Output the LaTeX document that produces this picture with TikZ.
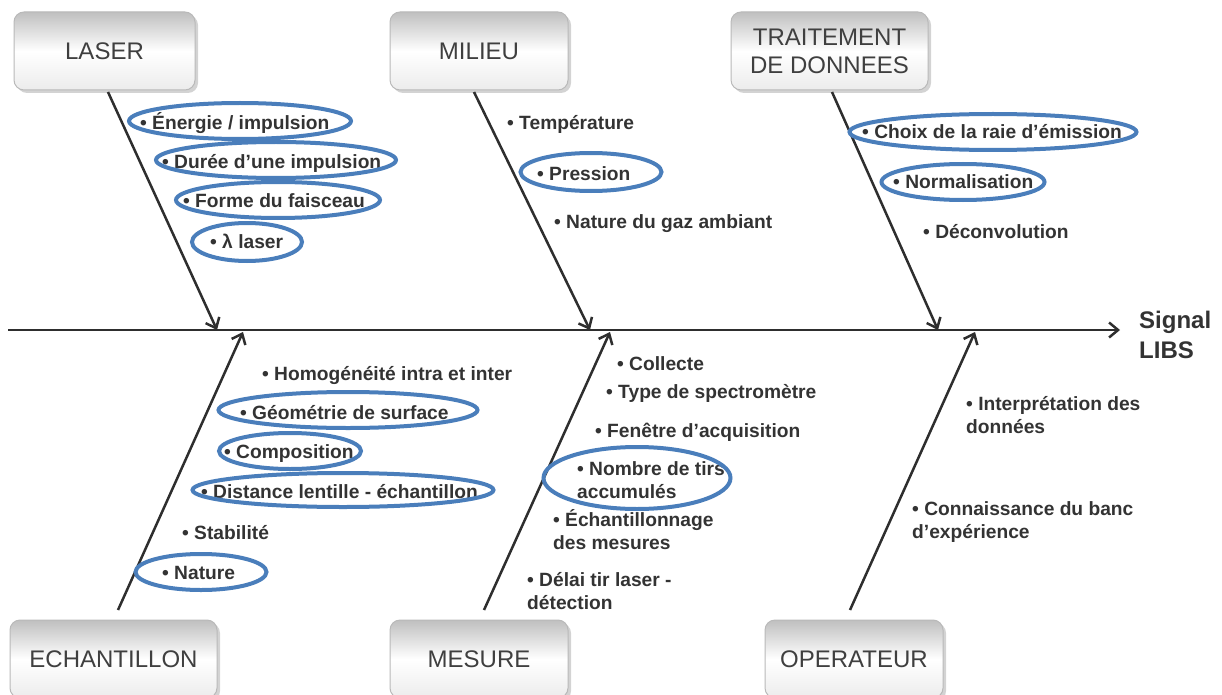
\documentclass[tikz,border=0pt]{standalone}
\usepackage{fontspec}
\setmainfont{Liberation Sans}
\usetikzlibrary{arrows.meta,shapes.geometric,shadows}
\definecolor{txt}{HTML}{333333}
\definecolor{boxtxt}{HTML}{3F3F3F}
\definecolor{ell}{HTML}{4A7EBB}
\definecolor{ln}{HTML}{2E2E2E}
\begin{document}
\begin{tikzpicture}[x=1pt,y=-1pt,
 cat/.style={draw=gray!55, line width=1pt, rounded corners=10pt, top color=gray!50, bottom color=gray!15, middle color=white,
   drop shadow={shadow xshift=3pt, shadow yshift=-3pt, opacity=0.35}, text=boxtxt,
   font=\fontsize{24}{28}\selectfont, align=center, inner sep=0pt, minimum height=78pt},
 item/.style={anchor=base west, inner sep=0pt, text=txt, font=\fontsize{19.2}{22.5}\selectfont\bfseries, align=left},
 hilite/.style={draw=ell, line width=4pt, ellipse, inner sep=0pt},
 bone/.style={draw=ln, line width=2.5pt, -{Straight Barb[length=9pt,width=15pt,line width=2.5pt]}}]
\useasboundingbox (0,0) rectangle (1222,695);
% category boxes
\node[cat, minimum width=181pt] (laser) at (104.5,51) {LASER};
\node[cat, minimum width=178pt] (milieu) at (479,51) {MILIEU};
\node[cat, minimum width=197pt] (trait) at (829.5,51) {TRAITEMENT\\DE DONNEES};
\node[cat, minimum width=207pt] (echant) at (113.5,659) {ECHANTILLON};
\node[cat, minimum width=178pt] (mesure) at (479,659) {MESURE};
\node[cat, minimum width=178pt] (operat) at (854,659) {OPERATEUR};
% spine
\coordinate (tail) at (8,330);
\coordinate (head) at (1120,330);
\draw[bone] (tail) -- (head);
\node[anchor=west, inner sep=0pt, text=txt, font=\fontsize{24}{30}\selectfont\bfseries, align=left] (sig) at (1139,335) {Signal\\LIBS};
% bones
\coordinate (a1) at (108,92);  \coordinate (b1) at (217,330);
\coordinate (a2) at (474,92);  \coordinate (b2) at (590,330);
\coordinate (a3) at (832,92);  \coordinate (b3) at (938,330);
\coordinate (a4) at (118,610); \coordinate (b4) at (243,332);
\coordinate (a5) at (484,610); \coordinate (b5) at (610,332);
\coordinate (a6) at (850,610); \coordinate (b6) at (975,332);
\draw[bone] (a1) -- (b1);
\draw[bone] (a2) -- (b2);
\draw[bone] (a3) -- (b3);
\draw[bone] (a4) -- (b4);
\draw[bone] (a5) -- (b5);
\draw[bone] (a6) -- (b6);
% LASER items
\node[item] (t1) at (140,130) {• Énergie / impulsion};
\node[item] (t2) at (162,168) {• Durée d’une impulsion};
\node[item] (t3) at (183,207) {• Forme du faisceau};
\node[item] (t4) at (210,248) {• λ laser};
% MILIEU items
\node[item] (t5) at (507,130) {• Température};
\node[item] (t6) at (537,180) {• Pression};
\node[item] (t7) at (554,228) {• Nature du gaz ambiant};
% TRAITEMENT items
\node[item] (t8) at (862,139) {• Choix de la raie d’émission};
\node[item] (t9) at (893,189) {• Normalisation};
\node[item] (t10) at (923,238) {• Déconvolution};
% ECHANTILLON items
\node[item] (t11) at (262,380) {• Homogénéité intra et inter};
\node[item] (t12) at (240,419) {• Géométrie de surface};
\node[item] (t13) at (224,458) {• Composition};
\node[item] (t14) at (201,498) {• Distance lentille - échantillon};
\node[item] (t15) at (182,539) {• Stabilité};
\node[item] (t16) at (162,579) {• Nature};
% MESURE items
\node[item] (t17) at (617,370) {• Collecte};
\node[item] (t18) at (606,398) {• Type de spectromètre};
\node[item] (t19) at (595,437) {• Fenêtre d’acquisition};
\node[item] (t20) at (577,498) {• Nombre de tirs\\accumulés};
\node[item] (t21) at (553,549) {• Échantillonnage\\des mesures};
\node[item] (t22) at (527,609) {• Délai tir laser -\\détection};
% OPERATEUR items
\node[item] (t23) at (966,433) {• Interprétation des\\données};
\node[item] (t24) at (912,538) {• Connaissance du banc\\d’expérience};
% highlight ellipses
\node[hilite, minimum width=222pt, minimum height=36pt] (e1) at (240,121) {};
\node[hilite, minimum width=240pt, minimum height=36pt] (e2) at (276,160) {};
\node[hilite, minimum width=204pt, minimum height=36pt] (e3) at (278,200) {};
\node[hilite, minimum width=110pt, minimum height=38pt] (e4) at (247,242) {};
\node[hilite, minimum width=141pt, minimum height=38pt] (e5) at (591,172) {};
\node[hilite, minimum width=287pt, minimum height=36pt] (e6) at (993,132) {};
\node[hilite, minimum width=163pt, minimum height=36pt] (e7) at (963,182) {};
\node[hilite, minimum width=259pt, minimum height=36pt] (e8) at (348,410) {};
\node[hilite, minimum width=142pt, minimum height=36pt] (e9) at (290,451) {};
\node[hilite, minimum width=301pt, minimum height=34pt] (e10) at (343,490) {};
\node[hilite, minimum width=131pt, minimum height=36pt] (e11) at (201,572) {};
\node[hilite, minimum width=187pt, minimum height=62pt] (e12) at (637,478) {};
\end{tikzpicture}
\end{document}
